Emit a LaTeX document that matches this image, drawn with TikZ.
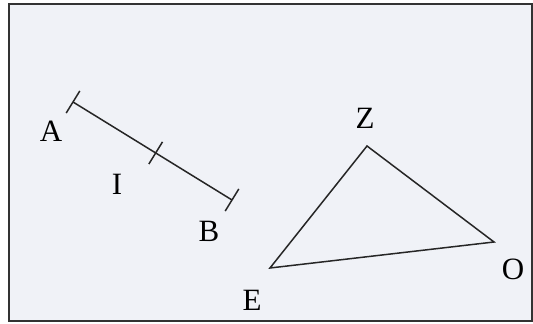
\documentclass[tikz,border=0pt]{standalone}
\usepackage{fontspec}
\setmainfont{Liberation Serif}
\usetikzlibrary{calc,positioning}
\definecolor{papergrey}{rgb}{0.94,0.95,0.97}
\tikzset{
  lettre/.style={
    inner sep=0pt,
    font=\fontsize{15.5}{18}\selectfont
  },
  trait/.style={
    line width=.75pt,
    black!85
  },
  cadre/.style={
    line width=1pt,
    black!80,
    fill=papergrey
  }
}
\begin{document}
\begin{tikzpicture}[x=.5pt,y=-.5pt]
\useasboundingbox (0,0) rectangle (533,324);
\draw[cadre] (8.5,4) rectangle (532,321);
% segment [AB] et son milieu I
\coordinate (A) at (73,102);
\coordinate (B) at (232,200);
\coordinate (I) at ($(A)!.52!(B)$);
\draw[trait] (A) -- (B);
\foreach \p/\q in {A/B,I/B,B/A}
  \draw[trait] ($(\p)!6.5pt!90:(\q)$) -- ($(\p)!6.5pt!-90:(\q)$);
\node[lettre] (lA) at (51,131) {A};
\node[lettre] (lI) at (117,184) {I};
\node[lettre] (lB) at (209,231) {B};
% triangle EZO
\coordinate (Z) at (367,146);
\coordinate (E) at (270,268);
\coordinate (O) at (494,242);
\draw[trait, line join=miter] (E) -- (Z) -- (O) -- cycle;
\node[lettre] (lZ) at (365,118) {Z};
\node[lettre] (lE) at (252,300) {E};
\node[lettre] (lO) at (513,269) {O};
\end{tikzpicture}
\end{document}
